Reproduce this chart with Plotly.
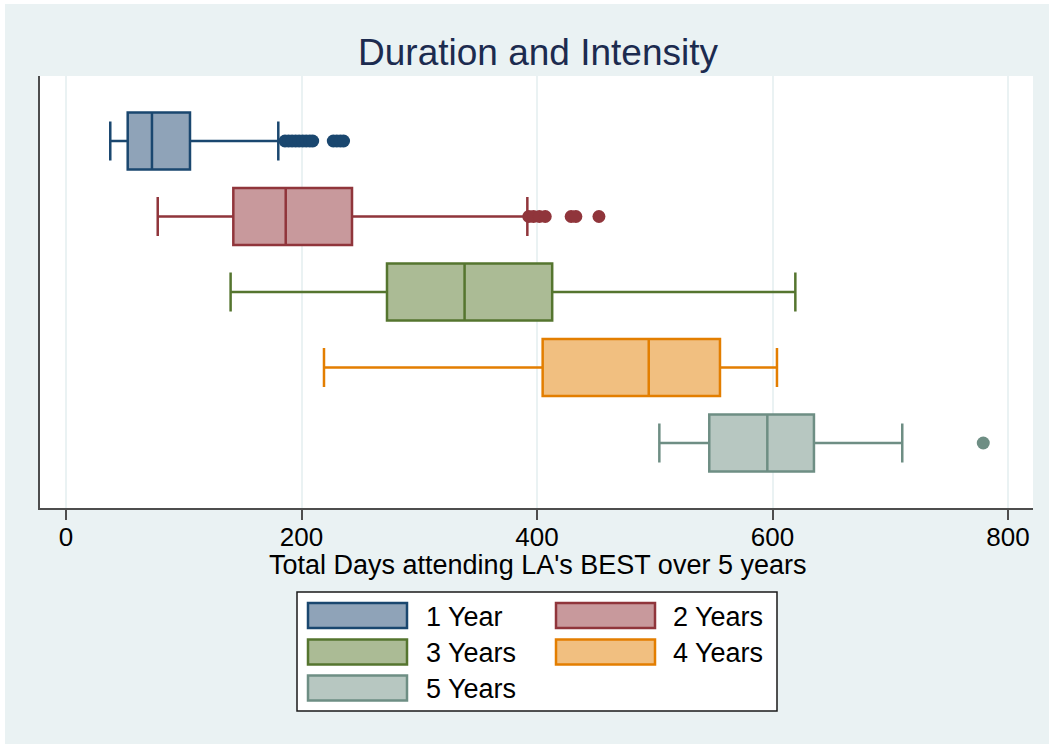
import plotly.graph_objects as go

# ---------------- data ----------------
categories = ["1 Year", "2 Years", "3 Years", "4 Years", "5 Years"]
lower_whisker = [37.6, 77.9, 139.8, 219.1, 503.9]
q1_vals = [52.4, 142.1, 272.6, 404.8, 546.3]
medians = [73.0, 186.6, 338.5, 494.9, 595.6]
q3_vals = [105.3, 242.9, 412.9, 555.4, 635.2]
upper_whisker = [180.3, 391.8, 619.4, 603.8, 710.2]
outliers = [
    [186, 189, 192, 195, 198, 201, 204, 207, 209.5, 227, 230, 233, 235.7],
    [393, 397, 402, 407, 429, 433, 452.6],
    [],
    [],
    [779],
]
line_colors = ["#1a476f", "#90353b", "#55752f", "#e37e00", "#6e8e84"]
fill_colors = ["#8fa3b8", "#c8999c", "#abbb95", "#f1bf80", "#b7c7c1"]
x_ticks = [0, 200, 400, 600, 800]
x_title = "Total Days attending LA's BEST over 5 years"
chart_title = "Duration and Intensity"

BG = "#eaf2f3"
FONT = "Liberation Sans, Arial, sans-serif"
W, H = 1049, 744
L, R, T, B = 40, 1033, 76, 508


def px2x(px):
    return (px - L) / (R - L)


def px2y(py):
    return (B - py) / (B - T)


fig = go.Figure()

for i, cat in enumerate(categories):
    fig.add_trace(go.Box(
        y=[cat], orientation="h",
        q1=[q1_vals[i]], median=[medians[i]], q3=[q3_vals[i]],
        lowerfence=[lower_whisker[i]], upperfence=[upper_whisker[i]],
        boxpoints=False, width=0.755, whiskerwidth=0.684,
        line=dict(color=line_colors[i], width=2.5),
        fillcolor=fill_colors[i], showlegend=False, name=cat,
        hoverinfo="x",
    ))
    if outliers[i]:
        fig.add_trace(go.Scatter(
            x=outliers[i], y=[cat] * len(outliers[i]), mode="markers",
            marker=dict(color=line_colors[i], size=13, line=dict(width=0)),
            showlegend=False, name=cat,
        ))

shapes = []
annotations = []
# white page border strips (top and left)
shapes.append(dict(type="rect", xref="paper", yref="paper", layer="below",
                   x0=px2x(0), x1=px2x(W), y0=px2y(0), y1=px2y(4),
                   fillcolor="white", line=dict(width=0)))
shapes.append(dict(type="rect", xref="paper", yref="paper", layer="below",
                   x0=px2x(0), x1=px2x(5), y0=px2y(H), y1=px2y(0),
                   fillcolor="white", line=dict(width=0)))

# x-axis title
annotations.append(dict(xref="paper", yref="paper", x=px2x(537), y=px2y(565),
                        xanchor="center", yanchor="middle", text=x_title,
                        showarrow=False,
                        font=dict(family=FONT, size=27, color="black")))

# legend box
shapes.append(dict(type="rect", xref="paper", yref="paper",
                   x0=px2x(297), x1=px2x(777), y0=px2y(711), y1=px2y(592),
                   fillcolor="white", line=dict(color="#1a1a1a", width=1.5)))
col_sw_x = [307, 555]
col_tx_x = [424, 671]
row_top = [602, 638.5, 674.5]
sw_w, sw_h = 101, 27
for i, cat in enumerate(categories):
    r, c = divmod(i, 2)
    x0 = col_sw_x[c]
    y0 = row_top[r]
    shapes.append(dict(type="rect", xref="paper", yref="paper",
                       x0=px2x(x0 + 1), x1=px2x(x0 + sw_w - 1),
                       y0=px2y(y0 + sw_h - 1), y1=px2y(y0 + 1),
                       fillcolor=fill_colors[i],
                       line=dict(color=line_colors[i], width=2.5)))
    annotations.append(dict(xref="paper", yref="paper", x=px2x(col_tx_x[c]),
                            y=px2y(y0 + sw_h / 2 + 1), xanchor="left", yanchor="middle",
                            text=cat, showarrow=False,
                            font=dict(family=FONT, size=27, color="black")))

fig.update_layout(
    width=W, height=H,
    margin=dict(l=L, r=W - R, t=T, b=H - B, pad=0),
    paper_bgcolor=BG, plot_bgcolor="white",
    title=dict(text=chart_title, x=px2x(538), xref="paper",
               y=1 - 52 / H, yref="container", xanchor="center", yanchor="middle",
               font=dict(family=FONT, size=37, color="#1c2b4f")),
    font=dict(family=FONT, size=26, color="black"),
    shapes=shapes, annotations=annotations, showlegend=False,
    xaxis=dict(range=[(L - 66) / 1.1775, (R - 66) / 1.1775],
               tickvals=x_ticks, ticktext=[str(v) for v in x_ticks],
               showgrid=True, gridcolor=BG, gridwidth=2, zeroline=False,
               showline=True, linecolor="#4d4d4d", linewidth=2,
               ticks="outside", ticklen=10, tickwidth=2, tickcolor="#4d4d4d",
               ticklabelstandoff=-5,
               tickfont=dict(family=FONT, size=26, color="black")),
    yaxis=dict(type="category", categoryorder="array", categoryarray=categories,
               range=[4.861, -0.861], showticklabels=False, ticks="",
               showgrid=False, zeroline=False,
               showline=True, linecolor="#4d4d4d", linewidth=2),
)

fig.write_html("out.html")
